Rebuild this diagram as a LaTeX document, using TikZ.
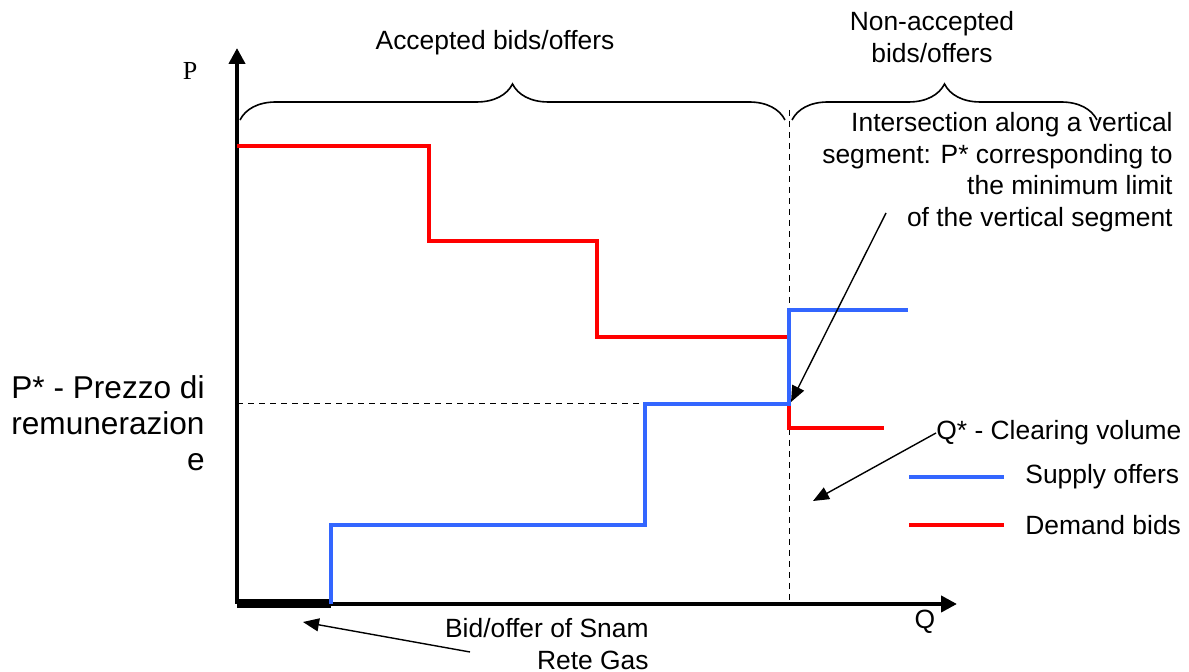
\documentclass[tikz,border=0pt]{standalone}
\usepackage{fontspec}
\setmainfont{Liberation Sans}
\newfontfamily\axisfont{Liberation Serif}
\usetikzlibrary{arrows.meta,decorations.pathreplacing}
\definecolor{supplyblue}{RGB}{51,102,255}
\definecolor{demandred}{RGB}{255,0,0}
\tikzstyle{axis}=[draw,line width=2.4pt,-{Triangle[length=8pt,width=8pt]}]
\tikzstyle{supply}=[draw,supplyblue,line width=2pt]
\tikzstyle{demand}=[draw,demandred,line width=2pt]
\tikzstyle{guide}=[draw,line width=0.5pt,dash pattern=on 3pt off 2.5pt]
\tikzstyle{pointer}=[draw,line width=0.7pt,-{Triangle[length=8pt,width=6.5pt]}]
\tikzstyle{bracket}=[draw,line width=0.8pt,decorate,decoration={brace,amplitude=18pt}]
\tikzstyle{txt}=[inner sep=0pt,font=\fontsize{13.2}{15.75}\selectfont]

\begin{document}
\begin{tikzpicture}[x=0.5pt,y=-0.5pt]
    \useasboundingbox (0,0) rectangle (1189,672);

    % corners of the curves
    \foreach \x/ \y/ \name in {237/604/O, 237/48/ptop, 957/604/qend, 789/110/qtop,
        331/604/s0, 645/525/s2, 789/404/s4, 908/310/s6,
        237/146/d0, 429/241/d1, 597/337/d2, 789/428/d3, 884/428/d4}
        \coordinate (\name) at (\x,\y);

    % guides
    \path[guide] (O |- s4) -- (s2 |- s4);
    \path[guide] (qtop) -- (s4 |- O);

    % axes
    \path[axis] (O) -- (ptop);
    \path[axis] (O) -- (qend);
    \draw[line width=4.5pt] (O) -- (s0);

    % bids and offers
    \path[demand] (d0) -| (d1) -| (d2) -| (d3) -- (d4);
    \path[supply] (s0) |- (s2) |- (s4) |- (s6);

    % braces
    \path[bracket] (240,120) -- (785,120);
    \path[bracket] (792,120) -- (1097,120);

    \node[txt] (acc) at (495,43) {Accepted bids/offers};
    \node[txt,align=center] (nonacc) at (932,37) {Non-accepted\\bids/offers};
    \node[txt,align=right,anchor=east] (inter) at (1173,172) {Intersection along a vertical\\segment: P* corresponding to\\the minimum limit\\of the vertical segment};
    \node[txt,anchor=west] (qstar) at (936,433) {Q* - Clearing volume};
    \node[txt,align=right,anchor=east] (snam) at (649,644) {Bid/offer of Snam\\Rete Gas};
    \node[inner sep=0pt,align=right,anchor=east,font=\fontsize{15.8}{18}\selectfont] (pstar) at (205,423) {P* - Prezzo di\\remunerazion\\e};
    \node[inner sep=0pt,font=\axisfont\fontsize{13}{14}\selectfont] (plabel) at (190,71) {P};
    \node[txt] (qlabel) at (925,622) {Q};

    % legend
    \foreach \y/ \style/ \name/ \text in {477/supply/lsupply/Supply offers, 525/demand/ldemand/Demand bids}
    {
        \node[txt,anchor=west] (\name) at (1025,\y) {\text};
        \path[\style] (909,\y) -- (1004,\y);
    }

    % pointers
    \coordinate (intertail) at (886,213);
    \coordinate (cross) at (791,402);
    \coordinate (qtip) at (813,501);
    \coordinate (snamtail) at (470,652);
    \coordinate (snamtip) at (303,622);
    \path[pointer] (intertail) -- (cross);
    \path[pointer] (qstar.west) -- (qtip);
    \path[pointer] (snamtail) -- (snamtip);

\end{tikzpicture}
\end{document}
